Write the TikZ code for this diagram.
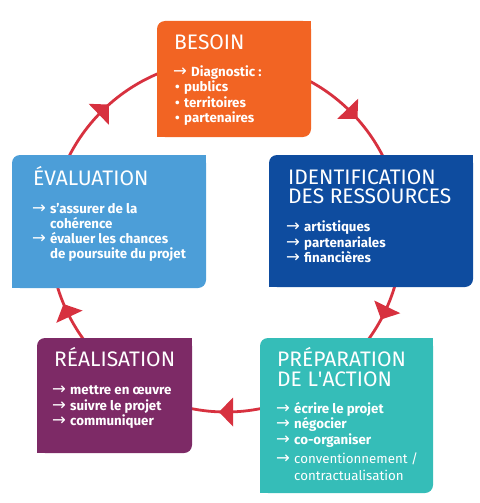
\documentclass[tikz,border=0pt]{standalone}
\usepackage{fontspec}
\setmainfont{Fira Sans}
\newfontfamily\arrfont{DejaVu Sans}
\usepackage{textcomp}
\definecolor{cOrange}{HTML}{F26423}
\definecolor{cDark}{HTML}{0E4C9F}
\definecolor{cLight}{HTML}{4C9ED8}
\definecolor{cPurple}{HTML}{7D2A66}
\definecolor{cTeal}{HTML}{35BDB8}
\definecolor{cRed}{HTML}{D7313F}
\newcommand{\arr}{\makebox[18pt][l]{\arrfont\mdseries\fontsize{16.5}{15}\selectfont →}}
\newcommand{\bul}{\makebox[9pt][l]{•}}
\begin{document}
\begin{tikzpicture}[x=1pt,y=-1pt,
  box/.style={inner sep=0pt, rounded corners=8pt, draw=none},
  ttl/.style={anchor=base west, inner sep=0pt, text=white, text height=14.5pt, text depth=0pt, font=\fontsize{21}{22}\selectfont},
  itm/.style={anchor=base west, inner sep=0pt, text=white, font=\fontsize{13.3}{15}\selectfont\bfseries},
  itmr/.style={itm, font=\fontsize{13.3}{15}\selectfont},
  cyc/.style={draw=cRed, line width=2.8pt},
  tip/.style={fill=cRed}]
\useasboundingbox (0,0) rectangle (479,503);
\coordinate (O) at (226,236);
\draw[cyc] (O) circle[radius=176pt];
\foreach \a in {134,44,-26,-90,205}{
  \begin{scope}[shift={(O)}, rotate=\a]
    \fill[tip] (176,7) -- (161.5,-7) -- (190.5,-7) -- cycle;
  \end{scope}
}
% boxes
\node[box, fill=cOrange, minimum width=154pt, minimum height=116pt] (besoin) at (234,79) {};
\node[box, fill=cDark, minimum width=204pt, minimum height=132pt] (ident) at (371,221) {};
\node[box, fill=cLight, minimum width=194pt, minimum height=133pt] (eval) at (109,221.5) {};
\node[box, fill=cPurple, minimum width=155pt, minimum height=115pt] (real) at (114.5,395.5) {};
\node[box, fill=cTeal, minimum width=173pt, minimum height=155pt] (prep) at (346.5,415.5) {};
\foreach \n/\c in {besoin/cOrange, ident/cDark, eval/cLight, real/cPurple, prep/cTeal}{
  \fill[\c] (\n.north east) rectangle ++(-10,10);
  \fill[\c] (\n.south west) rectangle ++(10,-10);
}
% BESOIN
\node[ttl] (besoinT) at (174,50) {BESOIN};
\node[itm] (besoin1) at (173,77) {\arr Diagnostic :};
\node[itm] (besoin2) at (175,92) {\bul publics};
\node[itm] (besoin3) at (175,107.5) {\bul territoires};
\node[itm] (besoin4) at (175,122.5) {\bul partenaires};
% IDENTIFICATION
\node[ttl] (identT1) at (288,184) {IDENTIFICATION};
\node[ttl] (identT2) at (288,203) {DES RESSOURCES};
\node[itm] (ident1) at (286,231) {\arr artistiques};
\node[itm] (ident2) at (286,247) {\arr partenariales};
\node[itm] (ident3) at (286,262) {\arr financières};
% EVALUATION
\node[ttl] (evalT) at (33,185) {ÉVALUATION};
\node[itm] (eval1) at (32,213) {\arr s’assurer de la};
\node[itm] (eval2) at (50,228) {cohérence};
\node[itm] (eval3) at (32,243) {\arr évaluer les chances};
\node[itm] (eval4) at (50,258) {de poursuite du projet};
% REALISATION
\node[ttl] (realT) at (54,366) {RÉALISATION};
\node[itm] (real1) at (52,394) {\arr mettre en œuvre};
\node[itm] (real2) at (52,410) {\arr suivre le projet};
\node[itm] (real3) at (52,425) {\arr communiquer};
% PREPARATION
\node[ttl] (prepT1) at (277,366.5) {PRÉPARATION};
\node[ttl] (prepT2) at (277,386) {DE L\textquotesingle ACTION};
\node[itm] (prep1) at (276,413) {\arr écrire le projet};
\node[itm] (prep2) at (276,428) {\arr négocier};
\node[itm] (prep3) at (276,444) {\arr co-organiser};
\node[itmr] (prep4) at (276,463) {\arr conventionnement /};
\node[itmr] (prep5) at (294,480) {contractualisation};
\end{tikzpicture}
\end{document}
